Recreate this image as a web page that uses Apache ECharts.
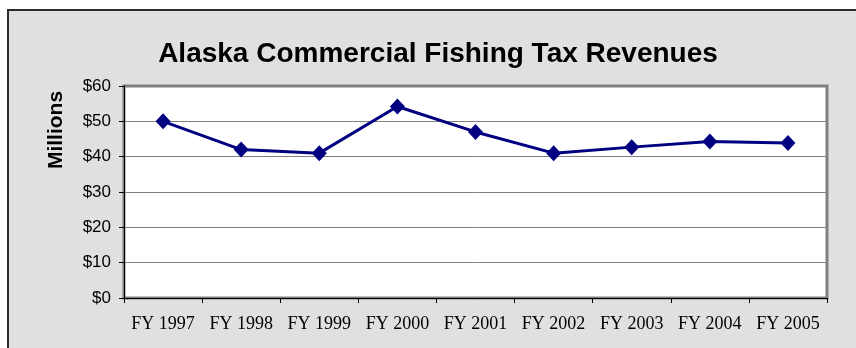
<!DOCTYPE html>
<html>
<head>
<meta http-equiv="Content-Type" content="text/html; charset=UTF-8">
<title>Alaska Commercial Fishing Tax Revenues</title>
<script src="https://cdn.jsdelivr.net/npm/echarts@6/dist/echarts.min.js"></script>
</head>
<body style="margin: 0; background: #fff;">
<div id="fish-tax" style="width: 856px; height: 348px;"></div>
<script type="text/javascript">
    var years = ['FY 1997', 'FY 1998', 'FY 1999', 'FY 2000', 'FY 2001', 'FY 2002', 'FY 2003', 'FY 2004', 'FY 2005'];
    var revenues = [50, 42, 41, 54.2, 47, 41, 42.7, 44.3, 43.9];   // millions of dollars
    var yTicks = [0, 10, 20, 30, 40, 50, 60];

    var myChart = echarts.init(document.getElementById('fish-tax'));
    myChart.setOption({
        backgroundColor : '#ffffff',
        animation : false,
        graphic : [ {
            type : 'rect',
            z : -10,
            shape : { x : 8, y : 10, width : 870, height : 360 },
            style : { fill : '#e0e0e0', stroke : '#2b2b2b', lineWidth : 2 }
        }, {
            type : 'text',
            x : 56,
            y : 130,
            rotation : Math.PI / 2,
            style : {
                text : 'Millions',
                fill : '#000',
                font : 'bold 21px "Liberation Sans", Arial, sans-serif',
                textAlign : 'center',
                textVerticalAlign : 'middle'
            }
        } ],
        title : {
            text : 'Alaska Commercial Fishing Tax Revenues',
            left : 433,
            top : 35,
            textAlign : 'center',
            textStyle : {
                fontFamily : '"Liberation Sans", Arial, sans-serif',
                fontWeight : 'bold',
                fontSize : 28,
                color : '#000'
            }
        },
        grid : {
            left : 124,
            right : 29,
            top : 86,
            bottom : 50,
            show : true,
            backgroundColor : '#ffffff',
            borderColor : '#808080',
            borderWidth : 3
        },
        xAxis : {
            type : 'category',
            data : years,
            boundaryGap : true,
            axisLine : { lineStyle : { color : '#000', width : 1 } },
            axisTick : { show : true, length : 5, interval : 0, lineStyle : { color : '#000' } },
            axisLabel : {
                interval : 0,
                margin : 17,
                color : '#000',
                fontFamily : '"Liberation Serif", "Times New Roman", serif',
                fontSize : 18
            }
        },
        yAxis : {
            type : 'value',
            min : yTicks[0],
            max : yTicks[yTicks.length - 1],
            interval : 10,
            axisLine : { show : true, lineStyle : { color : '#000', width : 1 } },
            axisTick : { show : true, length : 5, lineStyle : { color : '#000' } },
            axisLabel : {
                margin : 13,
                color : '#000',
                fontFamily : '"Liberation Sans", Arial, sans-serif',
                fontSize : 17,
                formatter : function (v) { return '$' + v; }
            },
            splitLine : { show : true, lineStyle : { color : '#808080', width : 1 } }
        },
        series : [ {
            name : 'Revenues',
            type : 'line',
            data : revenues,
            symbol : 'diamond',
            symbolSize : [15, 16],
            itemStyle : { color : '#000080' },
            lineStyle : { color : '#000080', width : 3 }
        } ]
    });
</script>
</body>
</html>
